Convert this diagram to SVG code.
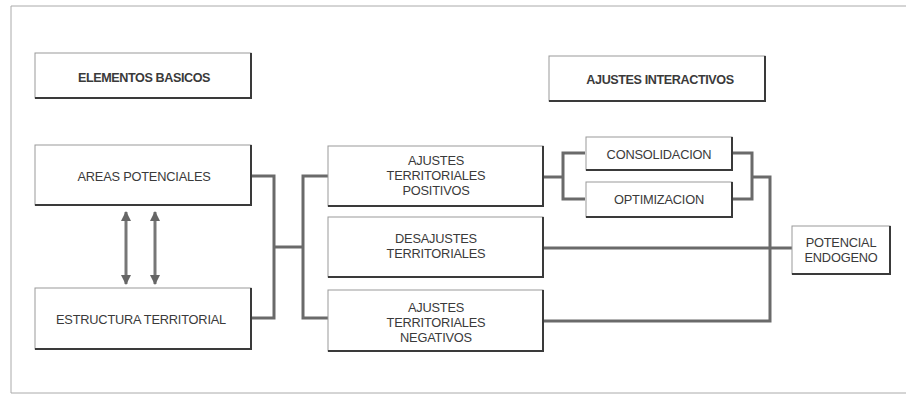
<svg xmlns="http://www.w3.org/2000/svg" width="907" height="394" viewBox="0 0 907 394">
<defs>
<marker id="ah" viewBox="0 0 10 10" refX="9" refY="5" markerWidth="3.5" markerHeight="3.5" orient="auto-start-reverse" markerUnits="strokeWidth">
<path d="M0,0 L10,5 L0,10 z" fill="#666"/>
</marker>
</defs>
<style>
.box{fill:#fff;stroke:#999;stroke-width:1}
.sh{fill:none;stroke:#3a3a3a;stroke-width:2}
.t{font-family:"Liberation Sans",Arial,sans-serif;font-size:12.8px;fill:#3a3a3a;text-anchor:middle;letter-spacing:-0.2px}
.b{font-family:"Liberation Sans",Arial,sans-serif;font-size:12.6px;font-weight:bold;fill:#3a3a3a;text-anchor:middle;letter-spacing:-0.4px}
.c{fill:none;stroke:#6a6a6a;stroke-width:3}
.a{fill:none;stroke:#777;stroke-width:3}
</style>
<rect width="907" height="394" fill="#fff"/>
<path d="M906,6 H11 V393 H906" fill="none" stroke="#aaa" stroke-width="1"/>

<g id="connectors">
<path class="c" d="M251,176 H274 V318 H251"/>
<path class="c" d="M274,247 H303"/>
<path class="c" d="M328,176 H303 V318 H328"/>
<path class="c" d="M543,177 H563"/>
<path class="c" d="M585,153 H563 V199 H585"/>
<path class="c" d="M732,153 H752 V199 H732"/>
<path class="c" d="M752,177 H770 V321 H543"/>
<path class="c" d="M543,248 H792"/>
<line class="a" x1="126" y1="212" x2="126" y2="284" marker-start="url(#ah)" marker-end="url(#ah)"/>
<line class="a" x1="155" y1="212" x2="155" y2="284" marker-start="url(#ah)" marker-end="url(#ah)"/>
</g>

<g id="elementos-basicos">
<rect class="box" x="35" y="53" width="216" height="45"/>
<path class="sh" d="M251,53 V98 H35"/>
<text class="b" x="144" y="82">ELEMENTOS BASICOS</text>
</g>
<g id="ajustes-interactivos">
<rect class="box" x="549" y="56" width="216" height="45"/>
<path class="sh" d="M765,56 V101 H549"/>
<text class="b" x="660" y="84">AJUSTES INTERACTIVOS</text>
</g>
<g id="areas-potenciales">
<rect class="box" x="35" y="145" width="216" height="60"/>
<path class="sh" d="M251,145 V205 H35"/>
<text class="t" x="144" y="181">AREAS POTENCIALES</text>
</g>
<g id="estructura-territorial">
<rect class="box" x="35" y="288" width="216" height="61"/>
<path class="sh" d="M251,288 V349 H35"/>
<text class="t" x="141" y="324">ESTRUCTURA TERRITORIAL</text>
</g>
<g id="ajustes-positivos">
<rect class="box" x="328" y="146" width="215" height="60"/>
<path class="sh" d="M543,146 V206 H328"/>
<text class="t" x="436" y="165">AJUSTES</text>
<text class="t" x="436" y="180">TERRITORIALES</text>
<text class="t" x="436" y="195">POSITIVOS</text>
</g>
<g id="desajustes">
<rect class="box" x="328" y="217" width="215" height="60"/>
<path class="sh" d="M543,217 V277 H328"/>
<text class="t" x="436" y="243">DESAJUSTES</text>
<text class="t" x="436" y="258">TERRITORIALES</text>
</g>
<g id="ajustes-negativos">
<rect class="box" x="328" y="290" width="215" height="61"/>
<path class="sh" d="M543,290 V351 H328"/>
<text class="t" x="436" y="312">AJUSTES</text>
<text class="t" x="436" y="327">TERRITORIALES</text>
<text class="t" x="436" y="342">NEGATIVOS</text>
</g>
<g id="consolidacion">
<rect class="box" x="586" y="137" width="146" height="33"/>
<path class="sh" d="M732,137 V170 H586"/>
<text class="t" x="659" y="159">CONSOLIDACION</text>
</g>
<g id="optimizacion">
<rect class="box" x="586" y="182" width="146" height="35"/>
<path class="sh" d="M732,182 V217 H586"/>
<text class="t" x="659" y="204">OPTIMIZACION</text>
</g>
<g id="potencial-endogeno">
<rect class="box" x="792" y="226" width="98" height="48"/>
<path class="sh" d="M890,226 V274 H792"/>
<text class="t" x="841" y="247">POTENCIAL</text>
<text class="t" x="841" y="262">ENDOGENO</text>
</g>
</svg>
